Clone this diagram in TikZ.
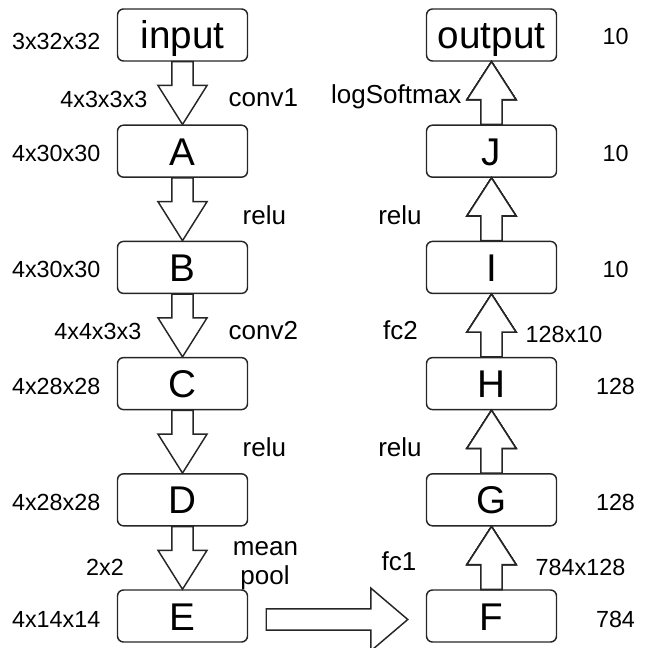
\documentclass[tikz,border=0pt]{standalone}
\usepackage{fontspec}
\setmainfont{Liberation Sans}
\usetikzlibrary{calc}
\tikzstyle{every path}=[line width=1.1pt,line join=miter]
\tikzstyle{layer}=[draw=black!85, rounded corners=4.5pt, minimum width=97.5pt, minimum height=39pt, inner sep=0pt, text height=21pt, text depth=0pt, font=\fontsize{29}{30}\selectfont]
\tikzstyle{dimlabel}=[inner sep=0pt, text height=12.5pt, text depth=0pt, font=\fontsize{17.5}{18}\selectfont]
\tikzstyle{oplabel}=[inner sep=0pt, text height=14pt, text depth=0pt, font=\fontsize{19.5}{20}\selectfont]
\tikzstyle{fatline}=[draw=black!85, fill=white]

% block arrow: start, tip, head half width, head length
\newcommand{\fatarrow}[4]{%
  \coordinate (hb) at ($(#2)!#4!(#1)$);
  \draw[fatline] ($(#1)!8pt!90:(#2)$) -- ($(hb)!8pt!90:(#2)$) -- ($(hb)!#3!90:(#2)$)
    -- (#2) -- ($(hb)!#3!-90:(#2)$) -- ($(hb)!8pt!-90:(#2)$) -- ($(#1)!8pt!-90:(#2)$) -- cycle;
}

\begin{document}
\begin{tikzpicture}[x=0.75pt,y=-0.75pt]
  \useasboundingbox (0,0) rectangle (646,648);
  % layers, left column going down
  \foreach \name/\txt/\row in {input/input/0,A/A/1,B/B/2,C/C/3,D/D/4,E/E/5}
    \node[layer] (\name) at (182.5,{35+116.2*\row}) {\txt};
  % layers, right column going up
  \foreach \name/\txt/\row in {output/output/0,J/J/1,I/I/2,H/H/3,G/G/4,F/F/5}
    \node[layer] (\name) at (491.5,{35+116.2*\row}) {\txt};

  % arrows
  \foreach \a/\b in {input/A,A/B,B/C,C/D,D/E}
    \fatarrow{\a.south}{\b.north}{18.4pt}{29.25pt}
  \foreach \a/\b in {F/G,G/H,H/I,I/J,J/output}
    \fatarrow{\a.north}{\b.south}{18.4pt}{28.5pt}
  \coordinate (flatin) at ($(E.east)+(18,3.5)$);
  \coordinate (flatout) at ($(F.west)+(-18,3.5)$);
  \fatarrow{flatin}{flatout}{23.6pt}{27.75pt}

  % sizes, left
  \node[dimlabel, anchor=east] (sin) at (101,41) {3x32x32};
  \node[dimlabel, anchor=east] (sA) at (101,153.5) {4x30x30};
  \node[dimlabel, anchor=east] (sB) at (101,269.5) {4x30x30};
  \node[dimlabel, anchor=east] (sC) at (101,386) {4x28x28};
  \node[dimlabel, anchor=east] (sD) at (101,502) {4x28x28};
  \node[dimlabel, anchor=east] (sE) at (101,619) {4x14x14};
  \node[dimlabel, anchor=east] (w1) at (148,99.5) {4x3x3x3};
  \node[dimlabel, anchor=east] (w2) at (142,331) {4x4x3x3};
  \node[dimlabel] (pw) at (105,567) {2x2};
  % ops, left
  \node[oplabel, anchor=west] (conv1) at (228,97.5) {conv1};
  \node[oplabel, anchor=west] (relu1) at (242,215) {relu};
  \node[oplabel, anchor=west] (conv2) at (228,330) {conv2};
  \node[oplabel, anchor=west] (relu2) at (242,447) {relu};
  \node[oplabel] (mean) at (265.5,546) {mean};
  \node[oplabel] (pool) at (265,575) {pool};

  % ops, right
  \node[oplabel] (fc1) at (399,561) {fc1};
  \node[oplabel] (relu3) at (400,447) {relu};
  \node[oplabel] (fc2) at (400.5,330) {fc2};
  \node[oplabel] (relu4) at (400,215) {relu};
  \node[oplabel, anchor=east] (lsm) at (462,94) {logSoftmax};
  \node[dimlabel, anchor=west] (w3) at (535,567) {784x128};
  \node[dimlabel, anchor=west] (w4) at (525,334) {128x10};
  % sizes, right
  \node[dimlabel] (sout) at (615.5,36) {10};
  \node[dimlabel] (sJ) at (615.5,153) {10};
  \node[dimlabel] (sI) at (615.5,269) {10};
  \node[dimlabel] (sH) at (615.5,386) {128};
  \node[dimlabel] (sG) at (615.5,502) {128};
  \node[dimlabel] (sF) at (615.5,619) {784};
\end{tikzpicture}
\end{document}
